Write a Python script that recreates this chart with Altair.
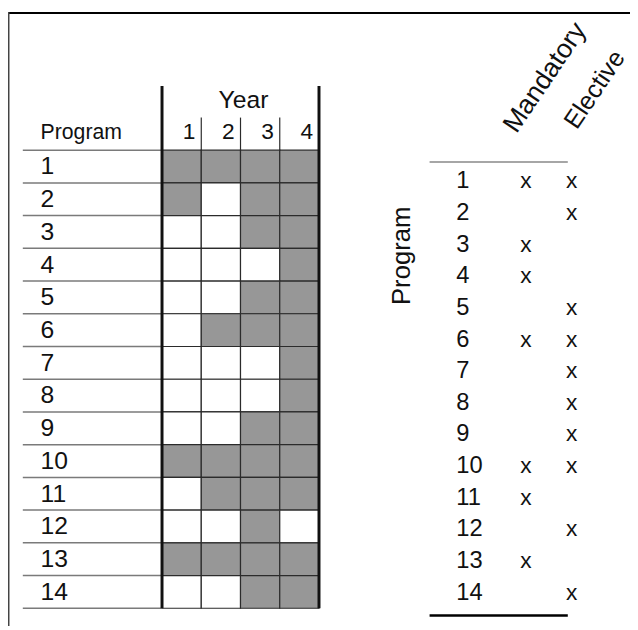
import altair as alt
import pandas as pd

# ---------------- data ----------------
programs = list(range(1, 15))
years = [1, 2, 3, 4]
# shaded cells (1 = shaded) for years 1..4, per program
year1 = [1, 1, 0, 0, 0, 0, 0, 0, 0, 1, 0, 0, 1, 0]
year2 = [1, 0, 0, 0, 0, 1, 0, 0, 0, 1, 1, 0, 1, 0]
year3 = [1, 1, 1, 0, 1, 1, 0, 0, 1, 1, 1, 1, 1, 1]
year4 = [1, 1, 1, 1, 1, 1, 1, 1, 1, 1, 1, 0, 1, 1]
mandatory = [1, 0, 1, 1, 0, 1, 0, 0, 0, 1, 1, 0, 1, 0]
elective = [1, 1, 0, 0, 1, 1, 1, 1, 1, 1, 0, 1, 0, 1]
columns = ["Mandatory", "Elective"]

FONT = "Liberation Sans"

# ---------------- tables ----------------
rows = []
for i, p in enumerate(programs):
    for y, vals in zip(years, [year1, year2, year3, year4]):
        rows.append({"program": p, "year": y, "filled": vals[i]})
cells_df = pd.DataFrame(rows)
prog_df = pd.DataFrame({"program": programs})
bounds_df = pd.DataFrame({"b": [p - 0.5 for p in programs] + [programs[-1] + 0.5]})
year_df = pd.DataFrame({"year": years})
marks_rows = []
for i, p in enumerate(programs):
    if mandatory[i]:
        marks_rows.append({"program": p, "col": "Mandatory"})
    if elective[i]:
        marks_rows.append({"program": p, "col": "Elective"})
marks_df = pd.DataFrame(marks_rows)

xs = alt.Scale(domain=[0.5, 4.5], range=[156, 315], nice=False, zero=False)
ys = alt.Scale(domain=[0.5, 14.5], range=[140, 604], nice=False, zero=False)

cells = alt.Chart(cells_df).transform_calculate(
    x1="datum.year - 0.5", x2="datum.year + 0.5",
    y1="datum.program - 0.5", y2="datum.program + 0.5"
).mark_rect(stroke="#2b2b2b", strokeWidth=1.2).encode(
    x=alt.X("x1:Q", scale=xs, axis=None), x2="x2:Q",
    y=alt.Y("y1:Q", scale=ys, axis=None), y2="y2:Q",
    color=alt.Color("filled:N", scale=alt.Scale(domain=[0, 1], range=["#ffffff", "#979797"]), legend=None),
)

rowlines = alt.Chart(bounds_df).mark_rule(color="#7a7a7a", strokeWidth=1.5).encode(
    y=alt.Y("b:Q", scale=ys, axis=None), x=alt.value(15), x2=alt.value(156)
)

thick_df = pd.DataFrame({"v": [years[0] - 0.5, years[-1] + 0.5]})
thick = alt.Chart(thick_df).mark_rule(color="#111111", strokeWidth=3).encode(
    x=alt.X("v:Q", scale=xs, axis=None), y=alt.value(75), y2=alt.value(604)
)
thin_df = pd.DataFrame({"v": [y + 0.5 for y in years[:-1]]})
thin = alt.Chart(thin_df).mark_rule(color="#2b2b2b", strokeWidth=1.2).encode(
    x=alt.X("v:Q", scale=xs, axis=None), y=alt.value(107), y2=alt.value(140)
)

year_digits = alt.Chart(year_df).transform_calculate(xr="datum.year + 0.5").mark_text(
    font=FONT, fontSize=23, align="right", baseline="alphabetic", dx=-6, color="#111"
).encode(x=alt.X("xr:Q", scale=xs, axis=None), y=alt.value(129), text="year:N")

year_title = alt.Chart(pd.DataFrame({"t": ["Year"], "x": [2.5]})).mark_text(
    font=FONT, fontSize=25, align="center", baseline="alphabetic", dx=3, color="#111"
).encode(x=alt.X("x:Q", scale=xs, axis=None), y=alt.value(97), text="t:N")

prog_header = alt.Chart(pd.DataFrame({"t": ["Program"]})).mark_text(
    font=FONT, fontSize=21.5, align="left", baseline="alphabetic", color="#111"
).encode(x=alt.value(33), y=alt.value(129), text="t:N")

row_labels = alt.Chart(prog_df).mark_text(
    font=FONT, fontSize=25, align="left", baseline="middle", color="#111"
).encode(x=alt.value(33), y=alt.Y("program:Q", scale=ys, axis=None), text="program:N")

frame_top = alt.Chart(pd.DataFrame({"a": [0]})).mark_rule(color="#000", strokeWidth=2).encode(
    y=alt.value(1), x=alt.value(0), x2=alt.value(630)
)
frame_left = alt.Chart(pd.DataFrame({"a": [0]})).mark_rule(color="#444", strokeWidth=1.5).encode(
    x=alt.value(0.75), y=alt.value(0), y2=alt.value(622)
)

left = alt.layer(cells, rowlines, thin, thick, year_digits, year_title, prog_header,
                 row_labels, frame_top, frame_left)

# ---------------- right table ----------------
yr = alt.Scale(domain=[1, 14], range=[178.7, 595.3], nice=False, zero=False)
xc = alt.Scale(type="point", domain=columns, range=[524.5, 571], padding=0)

nums = alt.Chart(prog_df).mark_text(
    font=FONT, fontSize=24, align="left", baseline="alphabetic", color="#111"
).encode(x=alt.value(454), y=alt.Y("program:Q", scale=yr, axis=None), text="program:N")

xmarks = alt.Chart(marks_df).mark_text(
    font=FONT, fontSize=23, align="center", baseline="alphabetic", color="#111"
).encode(x=alt.X("col:N", scale=xc, axis=None), y=alt.Y("program:Q", scale=yr, axis=None),
         text=alt.value("x"))

hdr_m = alt.Chart(pd.DataFrame({"t": [columns[0]]})).mark_text(
    font=FONT, fontSize=27, align="left", baseline="alphabetic", angle=304, color="#111"
).encode(x=alt.value(515), y=alt.value(124), text="t:N")
hdr_e = alt.Chart(pd.DataFrame({"t": [columns[1]]})).mark_text(
    font=FONT, fontSize=25.5, align="left", baseline="alphabetic", angle=304, color="#111"
).encode(x=alt.value(576), y=alt.value(120), text="t:N")
prog_rot = alt.Chart(pd.DataFrame({"t": ["Program"]})).mark_text(
    font=FONT, fontSize=26, align="center", baseline="alphabetic", angle=270, color="#111"
).encode(x=alt.value(407), y=alt.value(247), text="t:N")

top_rule = alt.Chart(pd.DataFrame({"a": [0]})).mark_rule(color="#888", strokeWidth=1.5).encode(
    y=alt.value(152), x=alt.value(427), x2=alt.value(567)
)
bottom_rule = alt.Chart(pd.DataFrame({"a": [0]})).mark_rule(color="#000", strokeWidth=2.5).encode(
    y=alt.value(611.3), x=alt.value(427), x2=alt.value(567)
)

right = alt.layer(nums, xmarks, hdr_m, hdr_e, prog_rot, top_rule, bottom_rule)

chart = alt.layer(left, right).resolve_scale(x="independent", y="independent").properties(
    width=630, height=622, padding=0, autosize=alt.AutoSizeParams(type="none"),
    background="white"
).configure_view(stroke=None)

chart.save("out.html", embed_options={"renderer": "svg", "actions": False})
